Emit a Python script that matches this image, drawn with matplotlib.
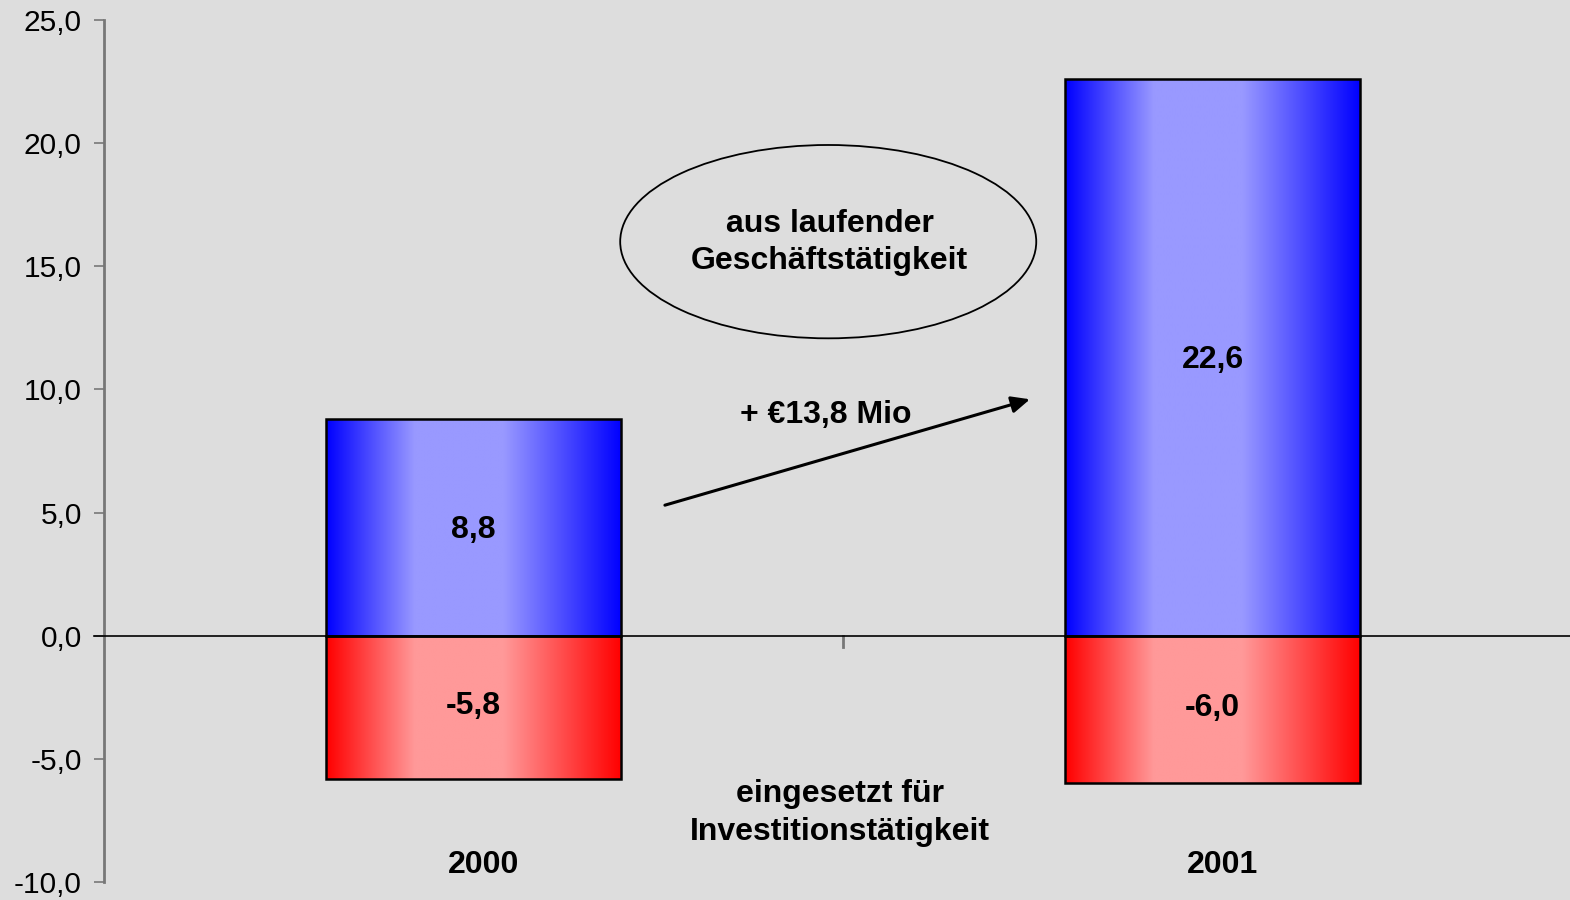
import numpy as np
import matplotlib.pyplot as plt
from matplotlib.patches import Ellipse
from matplotlib.colors import to_rgb

plt.rcParams['font.family'] = ['Liberation Sans', 'DejaVu Sans']

# Data
years = ['2000', '2001']
operating = [8.8, 22.6]        # Cashflow aus laufender Geschäftstätigkeit
investing = [-5.8, -6.0]       # eingesetzt für Investitionstätigkeit
op_labels = ['8,8', '22,6']
inv_labels = ['-5,8', '-6,0']
yticks = [-10, -5, 0, 5, 10, 15, 20, 25]
ytick_labels = ['-10,0', '-5,0', '0,0', '5,0', '10,0', '15,0', '20,0', '25,0']
delta_label = '+ €13,8 Mio'

BG = '#dddddd'
FS = 23


def gradient_fill(ax, bar, edge, light):
    """Fill a bar with a horizontal edge->centre->edge gradient."""
    x0, y0 = bar.get_x(), bar.get_y()
    w, h = bar.get_width(), bar.get_height()
    t = np.linspace(0, 1, 256)
    k = np.where(t < 0.3, (0.3 - t) / 0.3, 0.0)
    k = np.where(t > 0.6, (t - 0.6) / 0.4, k)
    e, l = np.array(to_rgb(edge)), np.array(to_rgb(light))
    row = l[None, :] + (e - l)[None, :] * k[:, None]
    img = row[None, :, :]
    ax.imshow(img, extent=(x0, x0 + w, y0, y0 + h), aspect='auto',
              interpolation='bilinear', zorder=2)


fig = plt.figure(figsize=(15.7, 9), dpi=100, facecolor=BG)
ax = fig.add_axes([104 / 1570, 18 / 900, 1478 / 1570, 862 / 900])
ax.set_facecolor(BG)

x = np.arange(len(years))
width = 0.4
op_bars = ax.bar(x, operating, width, facecolor='none', edgecolor='black',
                 linewidth=1.8, zorder=3)
inv_bars = ax.bar(x, investing, width, facecolor='none', edgecolor='black',
                  linewidth=1.8, zorder=3)
for b in op_bars:
    gradient_fill(ax, b, '#0000ff', '#9999ff')
for b in inv_bars:
    gradient_fill(ax, b, '#ff0000', '#ff9999')

# value labels in the middle of each bar
for i in x:
    ax.text(i, operating[i] / 2 - 0.1, op_labels[i], ha='center', va='center',
            fontsize=FS, fontweight='bold', zorder=4)
    ax.text(i, investing[i] / 2 + 0.05, inv_labels[i], ha='center', va='center',
            fontsize=FS, fontweight='bold', zorder=4)

ax.set_xlim(-0.5, 1.5)
ax.set_ylim(-10, 25)
ax.set_yticks(yticks)
ax.set_yticklabels(ytick_labels, fontsize=21.5)
ax.set_xticks([])
ax.tick_params(axis='y', direction='out', length=7, width=1.2, color='#777777',
               pad=9)

for s in ['top', 'right', 'bottom']:
    ax.spines[s].set_visible(False)
ax.spines['left'].set_color('#777777')
ax.spines['left'].set_linewidth(2)

# zero line with category divider tick
ax.plot([-10 / 1478, 1], [0.2857, 0.2857], transform=ax.transAxes,
        color='black', lw=1.2, clip_on=False, zorder=3)
ax.plot([0.5, 0.5], [0, -0.45], color='#777777', lw=2, zorder=1)

# category labels
for i, yr in enumerate(years):
    ax.text(i + 0.013, -9.3, yr, ha='center', va='center', fontsize=FS,
            fontweight='bold')

# annotations
ax.add_patch(Ellipse((0.48, 16.0), 0.563, 7.85, facecolor='none',
                     edgecolor='black', lw=1.3, zorder=3))
ax.text(0.482, 15.95, 'aus laufender\nGeschäftstätigkeit', ha='center',
        va='center', fontsize=FS, fontweight='bold', linespacing=1.3)

ax.annotate('', xy=(0.753, 9.6), xytext=(0.259, 5.3),
            arrowprops=dict(arrowstyle='-|>,head_length=1.1,head_width=0.5',
                            color='black', lw=2.2, shrinkA=0, shrinkB=0))
ax.text(0.476, 8.95, delta_label, ha='center', va='center', fontsize=FS,
        fontweight='bold')

ax.text(0.496, -7.2, 'eingesetzt für\nInvestitionstätigkeit', ha='center',
        va='center', fontsize=FS, fontweight='bold', linespacing=1.35)

fig.savefig('out.png', dpi=100, facecolor=BG)
